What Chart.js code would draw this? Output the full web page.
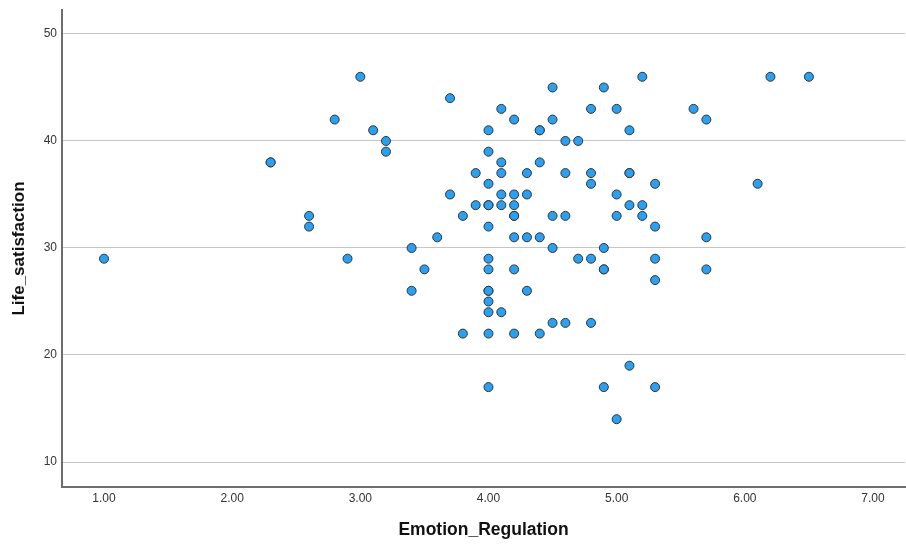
<!DOCTYPE html>
<html>
<head>
<meta charset="utf-8">
<script src="https://cdn.jsdelivr.net/npm/chart.js@4/dist/chart.umd.min.js"></script>
<style>
html,body{margin:0;padding:0;background:#ffffff;}
</style>
</head>
<body>
<canvas id="c" width="906" height="546"></canvas>
<script>
const emotionRegulation = [
  1.0,
  2.3, 2.3,
  2.6, 2.6,
  2.8,
  2.9,
  3.0,
  3.1,
  3.2, 3.2,
  3.4, 3.4,
  3.5,
  3.6,
  3.7, 3.7,
  3.8, 3.8,
  3.9, 3.9,
  4.0, 4.0, 4.0, 4.0, 4.0, 4.0, 4.0, 4.0, 4.0, 4.0, 4.0, 4.0, 4.0, 4.0,
  4.1, 4.1, 4.1, 4.1, 4.1, 4.1,
  4.2, 4.2, 4.2, 4.2, 4.2, 4.2, 4.2, 4.2,
  4.3, 4.3, 4.3, 4.3,
  4.4, 4.4, 4.4, 4.4, 4.4,
  4.5, 4.5, 4.5, 4.5, 4.5,
  4.6, 4.6, 4.6, 4.6,
  4.7, 4.7,
  4.8, 4.8, 4.8, 4.8, 4.8,
  4.9, 4.9, 4.9, 4.9, 4.9,
  5.0, 5.0, 5.0, 5.0,
  5.1, 5.1, 5.1, 5.1, 5.1,
  5.2, 5.2, 5.2,
  5.3, 5.3, 5.3, 5.3, 5.3,
  5.6,
  5.7, 5.7, 5.7,
  6.1,
  6.2,
  6.5
];
const lifeSatisfaction = [
  29,
  38, 38,
  33, 32,
  42,
  29,
  46,
  41,
  40, 39,
  30, 26,
  28,
  31,
  44, 35,
  33, 22,
  37, 34,
  41, 39, 36, 34, 34, 32, 29, 28, 26, 26, 25, 24, 22, 17,
  43, 38, 37, 35, 34, 24,
  42, 35, 34, 33, 33, 31, 28, 22,
  37, 35, 31, 26,
  41, 41, 38, 31, 22,
  45, 42, 33, 30, 23,
  40, 37, 33, 23,
  40, 29,
  43, 37, 36, 29, 23,
  45, 30, 28, 28, 17,
  43, 35, 33, 14,
  41, 37, 37, 34, 19,
  46, 34, 33,
  36, 32, 29, 27, 17,
  43,
  42, 31, 28,
  36,
  46,
  46
];
const xTickValues = [1, 2, 3, 4, 5, 6, 7];
const yTickValues = [10, 20, 30, 40, 50];
const xTitle = 'Emotion_Regulation';
const yTitle = 'Life_satisfaction';

const points = emotionRegulation.map((x, i) => ({ x: x, y: lifeSatisfaction[i] }));

new Chart(document.getElementById('c'), {
  type: 'scatter',
  data: {
    datasets: [{
      data: points,
      backgroundColor: '#2ba0f1',
      borderColor: '#2f3438',
      borderWidth: 1,
      pointRadius: 4.5,
      pointHoverRadius: 4.5
    }]
  },
  options: {
    responsive: false,
    animation: false,
    devicePixelRatio: 1,
    layout: { autoPadding: false, padding: { top: 10, right: 1, bottom: 0, left: 0 } },
    plugins: { legend: { display: false }, tooltip: { enabled: false } },
    events: [],
    scales: {
      x: {
        type: 'linear',
        min: 0.672,
        max: 7.25,
        afterBuildTicks: (s) => { s.ticks = xTickValues.map(v => ({ value: v })); },
        afterFit: (s) => { s.height = 59; s.paddingLeft = 0; s.paddingRight = 0; },
        ticks: {
          callback: (v) => Number(v).toFixed(2),
          font: { family: 'Liberation Sans, Arial, sans-serif', size: 12 },
          color: '#333333',
          padding: 4,
          maxRotation: 0,
          autoSkip: false
        },
        grid: { display: true, color: 'rgba(0,0,0,0)', drawTicks: false },
        border: { display: true, color: '#6e6e6e', width: 2 },
        title: {
          display: true,
          text: xTitle,
          font: { family: 'Liberation Sans, Arial, sans-serif', size: 17.5, weight: 'bold' },
          color: '#111111',
          padding: { top: 0, bottom: 5 }
        }
      },
      y: {
        type: 'linear',
        min: 7.664,
        max: 52.24,
        afterBuildTicks: (s) => { s.ticks = yTickValues.map(v => ({ value: v })); },
        afterFit: (s) => { s.width = 62; s.paddingTop = 0; s.paddingBottom = 0; },
        ticks: {
          callback: (v) => String(v),
          font: { family: 'Liberation Sans, Arial, sans-serif', size: 12 },
          color: '#333333',
          padding: 5,
          autoSkip: false
        },
        grid: { display: true, color: '#c6c6c6', lineWidth: 1, drawTicks: false },
        border: { display: true, color: '#6e6e6e', width: 2 },
        title: {
          display: true,
          text: yTitle,
          font: { family: 'Liberation Sans, Arial, sans-serif', size: 17, weight: 'bold' },
          color: '#111111',
          padding: { top: 9, bottom: 0 }
        }
      }
    }
  }
});
</script>
</body>
</html>
